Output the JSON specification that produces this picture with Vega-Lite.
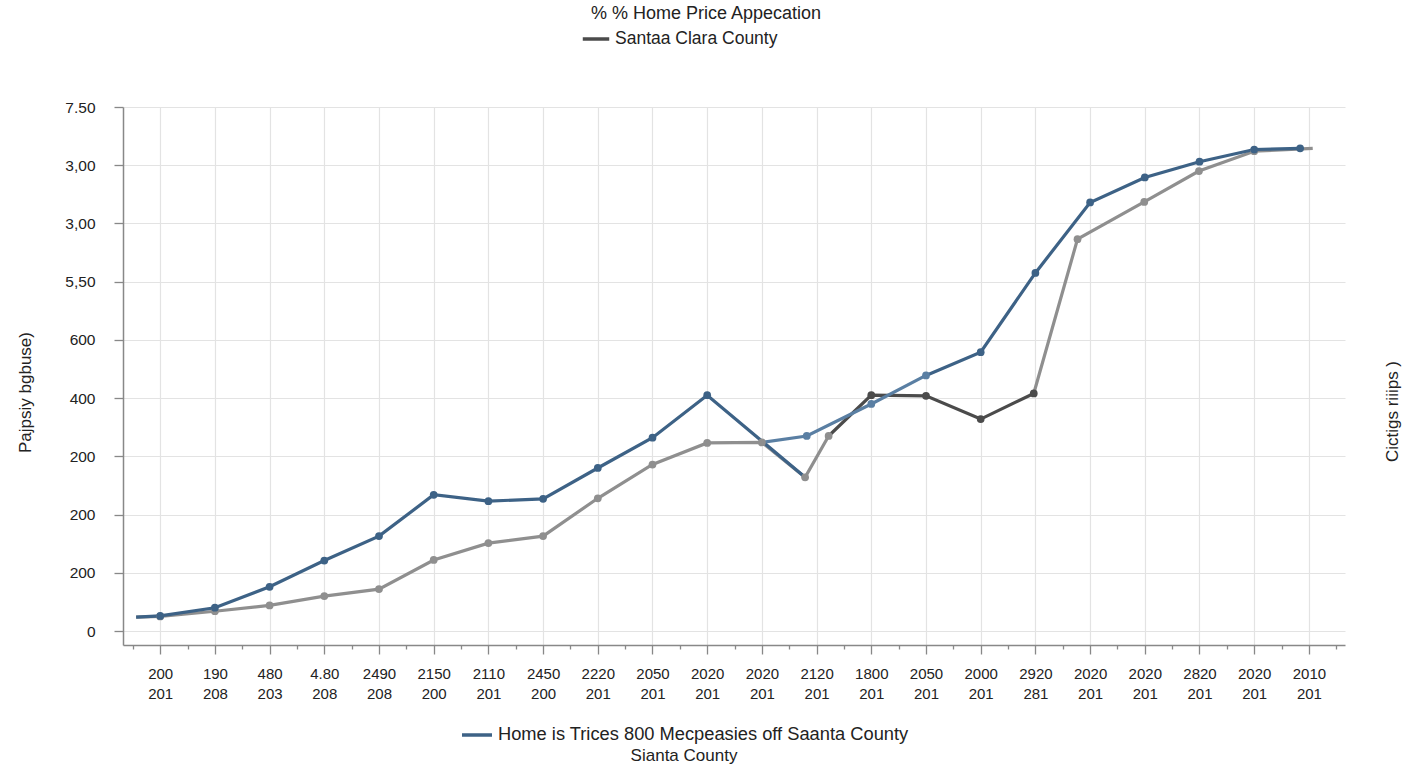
{
  "$schema": "https://vega.github.io/schema/vega-lite/v6.json",
  "width": 1222,
  "height": 538,
  "autosize": {"type": "none"},
  "padding": {"left": 123, "top": 107, "right": 63, "bottom": 123},
  "background": "white",
  "config": {
    "font": "Liberation Sans",
    "view": {"stroke": null},
    "axis": {"labelColor": "#222", "titleColor": "#222", "labelFont": "Liberation Sans", "titleFont": "Liberation Sans"},
    "legend": {"labelFont": "Liberation Sans", "titleFont": "Liberation Sans"}
  },
  "title": {"text": "% % Home Price Appecation", "fontSize": 18, "fontWeight": "normal", "color": "#222", "anchor": "middle", "frame": "group", "dx": -28, "offset": 1},
  "data": {"values": [
    {"s": "grey", "x": 0.56, "y": 0.24, "m": 0},
    {"s": "grey", "x": 1, "y": 0.25, "m": 1},
    {"s": "grey", "x": 2, "y": 0.34, "m": 1},
    {"s": "grey", "x": 3, "y": 0.44, "m": 1},
    {"s": "grey", "x": 4, "y": 0.6, "m": 1},
    {"s": "grey", "x": 5, "y": 0.72, "m": 1},
    {"s": "grey", "x": 6, "y": 1.22, "m": 1},
    {"s": "grey", "x": 7, "y": 1.51, "m": 1},
    {"s": "grey", "x": 8, "y": 1.63, "m": 1},
    {"s": "grey", "x": 9, "y": 2.28, "m": 1},
    {"s": "grey", "x": 10, "y": 2.86, "m": 1},
    {"s": "grey", "x": 11, "y": 3.23, "m": 1},
    {"s": "grey", "x": 12, "y": 3.24, "m": 1},
    {"s": "grey", "x": 12.79, "y": 2.64, "m": 1},
    {"s": "grey", "x": 13.22, "y": 3.35, "m": 1},
    {"s": "Santaa Clara County", "x": 13.22, "y": 3.35, "m": 0},
    {"s": "Santaa Clara County", "x": 14, "y": 4.05, "m": 1},
    {"s": "Santaa Clara County", "x": 15, "y": 4.04, "m": 1},
    {"s": "Santaa Clara County", "x": 16, "y": 3.64, "m": 1},
    {"s": "Santaa Clara County", "x": 16.97, "y": 4.08, "m": 1},
    {"s": "grey2", "x": 16.97, "y": 4.08, "m": 0},
    {"s": "grey2", "x": 17.77, "y": 6.73, "m": 1},
    {"s": "grey2", "x": 18.99, "y": 7.37, "m": 1},
    {"s": "grey2", "x": 19.99, "y": 7.9, "m": 1},
    {"s": "grey2", "x": 21, "y": 8.24, "m": 1},
    {"s": "grey2", "x": 22.07, "y": 8.29, "m": 0},
    {"s": "Home is Trices 800 Mecpeasies off Saanta County", "x": 0.56, "y": 0.24, "m": 0},
    {"s": "Home is Trices 800 Mecpeasies off Saanta County", "x": 1, "y": 0.26, "m": 1},
    {"s": "Home is Trices 800 Mecpeasies off Saanta County", "x": 2, "y": 0.4, "m": 1},
    {"s": "Home is Trices 800 Mecpeasies off Saanta County", "x": 3, "y": 0.76, "m": 1},
    {"s": "Home is Trices 800 Mecpeasies off Saanta County", "x": 4, "y": 1.21, "m": 1},
    {"s": "Home is Trices 800 Mecpeasies off Saanta County", "x": 5, "y": 1.63, "m": 1},
    {"s": "Home is Trices 800 Mecpeasies off Saanta County", "x": 6, "y": 2.34, "m": 1},
    {"s": "Home is Trices 800 Mecpeasies off Saanta County", "x": 7, "y": 2.23, "m": 1},
    {"s": "Home is Trices 800 Mecpeasies off Saanta County", "x": 8, "y": 2.27, "m": 1},
    {"s": "Home is Trices 800 Mecpeasies off Saanta County", "x": 9, "y": 2.8, "m": 1},
    {"s": "Home is Trices 800 Mecpeasies off Saanta County", "x": 10, "y": 3.32, "m": 1},
    {"s": "Home is Trices 800 Mecpeasies off Saanta County", "x": 11, "y": 4.05, "m": 1},
    {"s": "Home is Trices 800 Mecpeasies off Saanta County", "x": 12.79, "y": 2.64, "m": 0},
    {"s": "b2", "x": 12, "y": 3.24, "m": 0},
    {"s": "b2", "x": 12.82, "y": 3.35, "m": 1},
    {"s": "b2", "x": 14, "y": 3.9, "m": 1},
    {"s": "b2", "x": 15, "y": 4.39, "m": 1},
    {"s": "b3", "x": 15, "y": 4.39, "m": 0},
    {"s": "b3", "x": 16, "y": 4.79, "m": 1},
    {"s": "b3", "x": 17, "y": 6.15, "m": 1},
    {"s": "b3", "x": 18, "y": 7.36, "m": 1},
    {"s": "b3", "x": 19, "y": 7.79, "m": 1},
    {"s": "b3", "x": 20, "y": 8.06, "m": 1},
    {"s": "b3", "x": 21, "y": 8.27, "m": 1},
    {"s": "b3", "x": 21.84, "y": 8.29, "m": 1}
  ]},
  "resolve": {"scale": {"y": "independent"}, "axis": {"y": "independent", "x": "independent"}},
  "layer": [
    {
      "layer": [
        {
          "transform": [{"filter": "datum.s == 'grey' || datum.s == 'grey2'"}],
          "mark": {"type": "line", "strokeWidth": 3.2},
          "encoding": {
            "x": {"field": "x", "type": "quantitative",
              "scale": {"domain": [0.32, 22.66], "nice": false, "zero": false},
              "axis": {"orient": "bottom", "title": null, "values": [1,2,3,4,5,6,7,8,9,10,11,12,13,14,15,16,17,18,19,20,21,22],
                "labelExpr": "split(['200 201','190 208','480 203','4.80 208','2490 208','2150 200','2110 201','2450 200','2220 201','2050 201','2020 201','2020 201','2120 201','1800 201','2050 201','2000 201','2920 281','2020 201','2020 201','2820 201','2020 201','2010 201'][round(datum.value) - 1], ' ')",
                "labelFontSize": 15, "labelLineHeight": 20, "labelPadding": 12, "labelAngle": 0, "labelOverlap": false, "labelFlush": false,
                "domainColor": "#888", "domainWidth": 1.5, "tickColor": "#888", "tickWidth": 1.3, "tickSize": 9,
                "grid": true, "gridColor": "#e3e3e3", "gridWidth": 1.2}},
            "y": {"field": "y", "type": "quantitative",
              "scale": {"domain": [-0.24, 9], "nice": false, "zero": false},
              "axis": {"title": "Pajpsiy bgbuse)", "titleFontSize": 17, "titleFontWeight": "normal", "titleAngle": -90, "titleX": -98, "titleY": 285, "titleAlign": "center", "titleBaseline": "middle",
                "values": [0,0.5,1,1.5,2,2.5,3,3.5,4,4.5,5,5.5,6,6.5,7,7.5,8,8.5,9],
                "labelExpr": "datum.value % 1 != 0 ? '' : ['0','200','200','200','400','600','5,50','3,00','3,00','7.50'][datum.value]",
                "labelFontSize": 15.5, "labelPadding": 19, "labelOverlap": false, "labelFlush": false,
                "domainColor": "#888", "domainWidth": 1.5, "tickColor": "#888", "tickWidth": 1.3,
                "tickSize": {"condition": {"test": "datum.value % 1 != 0", "value": 4}, "value": 9},
                "grid": true, "gridColor": "#e3e3e3", "gridWidth": 1.2,
                "gridOpacity": {"condition": {"test": "datum.value % 1 != 0", "value": 0}, "value": 1}}},
            "color": {"field": "s", "type": "nominal",
              "scale": {"domain": ["Home is Trices 800 Mecpeasies off Saanta County", "b2", "b3", "grey", "grey2", "Santaa Clara County"], "range": ["#3d6286", "#5a7fa3", "#3d6286", "#8f8f8f", "#8f8f8f", "#4b4b4b"]},
              "legend": {"values": ["Home is Trices 800 Mecpeasies off Saanta County"], "orient": "none", "legendX": 337, "legendY": 611, "title": "Sianta County", "titleOrient": "bottom", "titleAnchor": "middle", "titleFontSize": 17, "titleFontWeight": "normal", "titleColor": "#222", "titlePadding": 5, "labelFontSize": 18.3, "labelColor": "#222", "labelLimit": 1000, "symbolType": "stroke", "symbolSize": 900, "symbolStrokeWidth": 3.5, "padding": 0}}
          }
        },
        {
          "transform": [{"filter": "datum.s == 'Santaa Clara County'"}],
          "mark": {"type": "line", "strokeWidth": 3.2},
          "encoding": {
            "x": {"field": "x", "type": "quantitative"},
            "y": {"field": "y", "type": "quantitative"},
            "stroke": {"field": "s", "type": "nominal",
              "scale": {"domain": ["Santaa Clara County"], "range": ["#4b4b4b"]},
              "legend": {"orient": "none", "legendX": 458, "legendY": -83, "title": null, "labelFontSize": 17.5, "labelColor": "#222", "labelLimit": 1000, "symbolType": "stroke", "symbolSize": 700, "symbolStrokeWidth": 3.5, "padding": 0}}
          }
        },
        {
          "transform": [{"filter": "datum.s == 'b2' || datum.s == 'b3' || datum.s == 'Home is Trices 800 Mecpeasies off Saanta County'"}],
          "mark": {"type": "line", "strokeWidth": 3.2},
          "encoding": {
            "x": {"field": "x", "type": "quantitative"},
            "y": {"field": "y", "type": "quantitative"},
            "color": {"field": "s", "type": "nominal"}
          }
        },
        {
          "transform": [{"filter": "datum.m == 1"}],
          "mark": {"type": "point", "filled": true, "opacity": 1, "size": 60},
          "encoding": {
            "x": {"field": "x", "type": "quantitative"},
            "y": {"field": "y", "type": "quantitative"},
            "color": {"field": "s", "type": "nominal"}
          }
        }
      ]
    },
    {
      "transform": [{"filter": "datum.m == 1"}],
      "mark": {"type": "point", "filled": true, "opacity": 0, "size": 10},
      "encoding": {
        "x": {"field": "x", "type": "quantitative",
          "axis": {"orient": "bottom", "title": null, "values": [0.5,1.5,2.5,3.5,4.5,5.5,6.5,7.5,8.5,9.5,10.5,11.5,12.5,13.5,14.5,15.5,16.5,17.5,18.5,19.5,20.5,21.5,22.5], "labels": false, "grid": false, "domain": false, "tickSize": 4, "tickColor": "#888", "tickWidth": 1.3}},
        "y": {"field": "y", "type": "quantitative",
          "scale": {"domain": [-0.24, 9], "nice": false, "zero": false},
          "axis": {"orient": "right", "title": "Cictigs riiips )", "titleFontSize": 17, "titleFontWeight": "normal", "titleAngle": -90, "titleX": 47, "titleY": 304, "titleAlign": "center", "titleBaseline": "middle", "labels": false, "ticks": false, "domain": false, "grid": false}}
      }
    }
  ]
}
